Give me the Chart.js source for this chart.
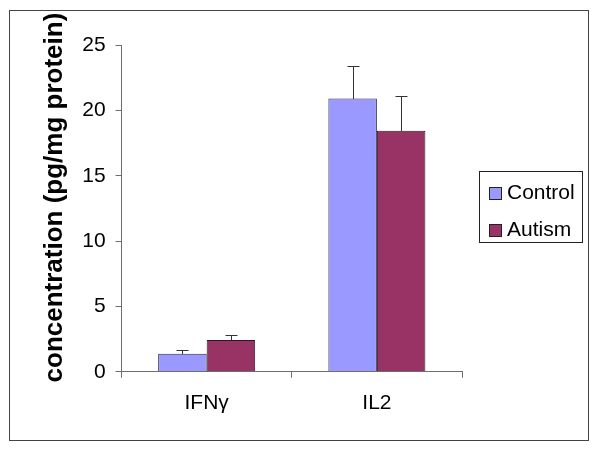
<!DOCTYPE html>
<html>
<head>
<meta charset="utf-8">
<script src="https://cdn.jsdelivr.net/npm/chart.js@4/dist/chart.umd.min.js"></script>
<style>
html,body{margin:0;padding:0;background:#fff;}
canvas{display:block;}
</style>
</head>
<body>
<canvas id="c" width="600" height="450"></canvas>
<script>
const categories = ['IFNγ', 'IL2'];
const seriesNames = ['Control', 'Autism'];
const controlValues = [1.38, 20.9];
const autismValues = [2.44, 18.44];
const controlErrors = [0.26, 2.46];
const autismErrors = [0.41, 2.64];
const yTicks = [0, 5, 10, 15, 20, 25];
const yTitle = 'concentration (pg/mg protein)';

const FONT = "'Liberation Sans', Arial, sans-serif";
const AXIS = '#6e6e6e';

const errorBars = {
  id: 'errorBars',
  afterDatasetsDraw(chart) {
    const ctx = chart.ctx;
    const y = chart.scales.y;
    ctx.save();
    ctx.strokeStyle = '#333';
    ctx.lineWidth = 1;
    chart.data.datasets.forEach((ds, i) => {
      const meta = chart.getDatasetMeta(i);
      meta.data.forEach((bar, j) => {
        const top = y.getPixelForValue(ds.data[j] + ds.errors[j]);
        const x = Math.round(bar.x) + 0.5;
        const t = Math.round(top) + 0.5;
        ctx.beginPath();
        ctx.moveTo(x, Math.round(bar.y));
        ctx.lineTo(x, t);
        ctx.moveTo(x - 6, t);
        ctx.lineTo(x + 6, t);
        ctx.stroke();
      });
    });
    ctx.restore();
  }
};

const frameAndLegend = {
  id: 'frameAndLegend',
  afterDraw(chart) {
    const ctx = chart.ctx;
    ctx.save();
    ctx.strokeStyle = '#444';
    ctx.lineWidth = 1;
    ctx.strokeRect(9.5, 10.5, 579, 430);
    const lx = 479.5, ly = 171.5, lw = 103, lh = 71;
    ctx.strokeStyle = '#222';
    ctx.strokeRect(lx, ly, lw, lh);
    ctx.font = '21px ' + FONT;
    ctx.textBaseline = 'middle';
    ctx.textAlign = 'left';
    chart.data.datasets.forEach((ds, i) => {
      const cy = 193.5 + i * 36.5;
      ctx.fillStyle = ds.backgroundColor;
      ctx.fillRect(489, Math.round(cy - 6.5), 13, 13);
      ctx.strokeStyle = '#222';
      ctx.strokeRect(489.5, Math.round(cy - 6.5) + 0.5, 12, 12);
      ctx.fillStyle = '#000';
      ctx.fillText(ds.label, 507, cy);
    });
    ctx.restore();
  }
};

new Chart(document.getElementById('c'), {
  type: 'bar',
  data: {
    labels: categories,
    datasets: [
      { label: seriesNames[0], data: controlValues, errors: controlErrors,
        backgroundColor: '#9999FF', borderColor: '#2a2a44', borderWidth: 1 },
      { label: seriesNames[1], data: autismValues, errors: autismErrors,
        backgroundColor: '#993366', borderColor: '#2a1a22', borderWidth: 1 }
    ]
  },
  options: {
    responsive: false,
    animation: false,
    devicePixelRatio: 1,
    layout: { padding: { left: 39, right: 138, top: 45, bottom: 21 } },
    plugins: { legend: { display: false }, tooltip: { enabled: false } },
    datasets: { bar: { categoryPercentage: 0.57, barPercentage: 1 } },
    scales: {
      x: {
        grid: { display: true, offset: true, drawOnChartArea: false, tickLength: 6, color: AXIS },
        border: { color: AXIS, width: 1 },
        ticks: { color: '#000', padding: 13, font: { family: FONT, size: 21 } }
      },
      y: {
        min: 0, max: 25,
        afterBuildTicks(scale) { scale.ticks = yTicks.map(v => ({ value: v })); },
        grid: { display: true, drawOnChartArea: false, tickLength: 6, color: AXIS },
        border: { color: AXIS, width: 1 },
        ticks: { color: '#000', padding: 10, font: { family: FONT, size: 21 } },
        title: {
          display: true,
          text: '\u00a0\u00a0\u00a0' + yTitle,
          color: '#000',
          padding: { top: 0, bottom: 2 },
          font: { family: FONT, size: 26, weight: 'bold' }
        }
      }
    }
  },
  plugins: [errorBars, frameAndLegend]
});
</script>
</body>
</html>
